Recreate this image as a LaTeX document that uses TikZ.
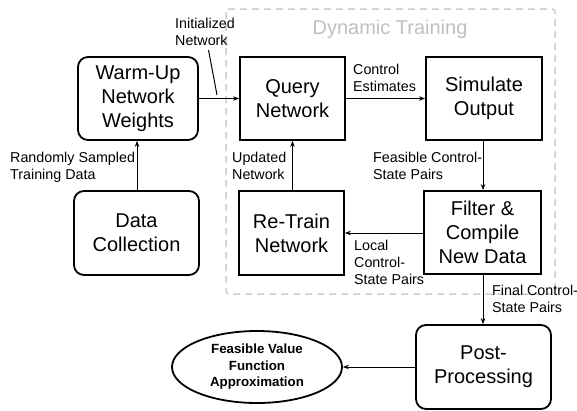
\documentclass[tikz,border=0pt]{standalone}
\usepackage{fontspec}
\setmainfont{Liberation Sans}
\usetikzlibrary{arrows.meta,shapes.geometric}
\begin{document}
\begin{tikzpicture}[x=1pt,y=-1pt,
  box/.style={draw,line width=1.8pt,align=center,inner sep=0pt,
    font=\fontsize{20}{24}\selectfont},
  rbox/.style={box,rounded corners=10pt},
  lbl/.style={font=\fontsize{14.3}{16.8}\selectfont,align=left,inner sep=0pt,anchor=north west},
  arr/.style={-{Stealth[length=6pt,width=4.5pt]},line width=0.8pt}]
\useasboundingbox (0,0) rectangle (577,410);

% dynamic training frame
\draw[gray!40,line width=1.5pt,dash pattern=on 7pt off 5pt,rounded corners=3pt]
  (226,9) rectangle (555,294);
\node[text=gray!50,font=\fontsize{20}{24}\selectfont,inner sep=0pt] (dyn) at (390,29) {Dynamic Training};

% blocks
\node[rbox,minimum width=120pt,minimum height=83pt] (warm) at (138,98.5) {Warm-Up\\Network\\Weights};
\node[rbox,minimum width=125pt,minimum height=84pt] (data) at (136.5,233) {Data\\Collection};
\node[box,minimum width=105pt,minimum height=83pt] (query) at (292.5,98.5) {Query\\Network};
\node[box,minimum width=116pt,minimum height=83pt] (sim) at (484,98.5) {Simulate\\Output};
\node[box,minimum width=117pt,minimum height=83pt] (filter) at (482.5,232.5) {Filter \&\\Compile\\New Data};
\node[box,minimum width=105pt,minimum height=84pt] (retrain) at (291.5,233) {Re-Train\\Network};
\node[rbox,minimum width=135pt,minimum height=84pt] (post) at (483.5,367) {Post-\\Processing};
\node[ellipse,draw,line width=1.8pt,minimum width=170pt,minimum height=72pt,inner sep=0pt,align=center,
  font=\bfseries\fontsize{13.3}{16.5}\selectfont] (vf) at (257,367) {Feasible Value\\Function\\Approximation};

% connectors
\draw[arr] (warm.east) -- (query.west);
\draw[arr] (data.north -| 137,0) -- (warm.south -| 137,0);
\draw[arr] (retrain.north -| 292.5,0) -- (query.south -| 292.5,0);
\draw[arr] (query.east) -- (sim.west);
\draw[arr] (sim.south -| 483,0) -- (filter.north -| 483,0);
\draw[arr] (filter.west |- 0,233) -- (retrain.east |- 0,233);
\draw[arr] (filter.south -| 483,0) -- (post.north -| 483,0);
\draw[arr] (post.west) -- (vf.east);

% labels
\node[lbl] (linit) at (175,18) {Initialized\\Network};
\coordinate (initA) at (208.5,50);
\coordinate (initB) at (217,95);
\draw[line width=1pt] (initA) -- (initB);
\node[lbl] (lrand) at (10,152) {Randomly Sampled\\Training Data};
\node[lbl] (lupd) at (232,152) {Updated\\Network};
\node[lbl] (lctrl) at (353,64) {Control\\Estimates};
\node[lbl] (lfeas) at (373,152) {Feasible Control-\\State Pairs};
\node[lbl] (lloc) at (354,240) {Local\\Control-\\State Pairs};
\node[lbl] (lfin) at (492,285) {Final Control-\\State Pairs};
\end{tikzpicture}
\end{document}
